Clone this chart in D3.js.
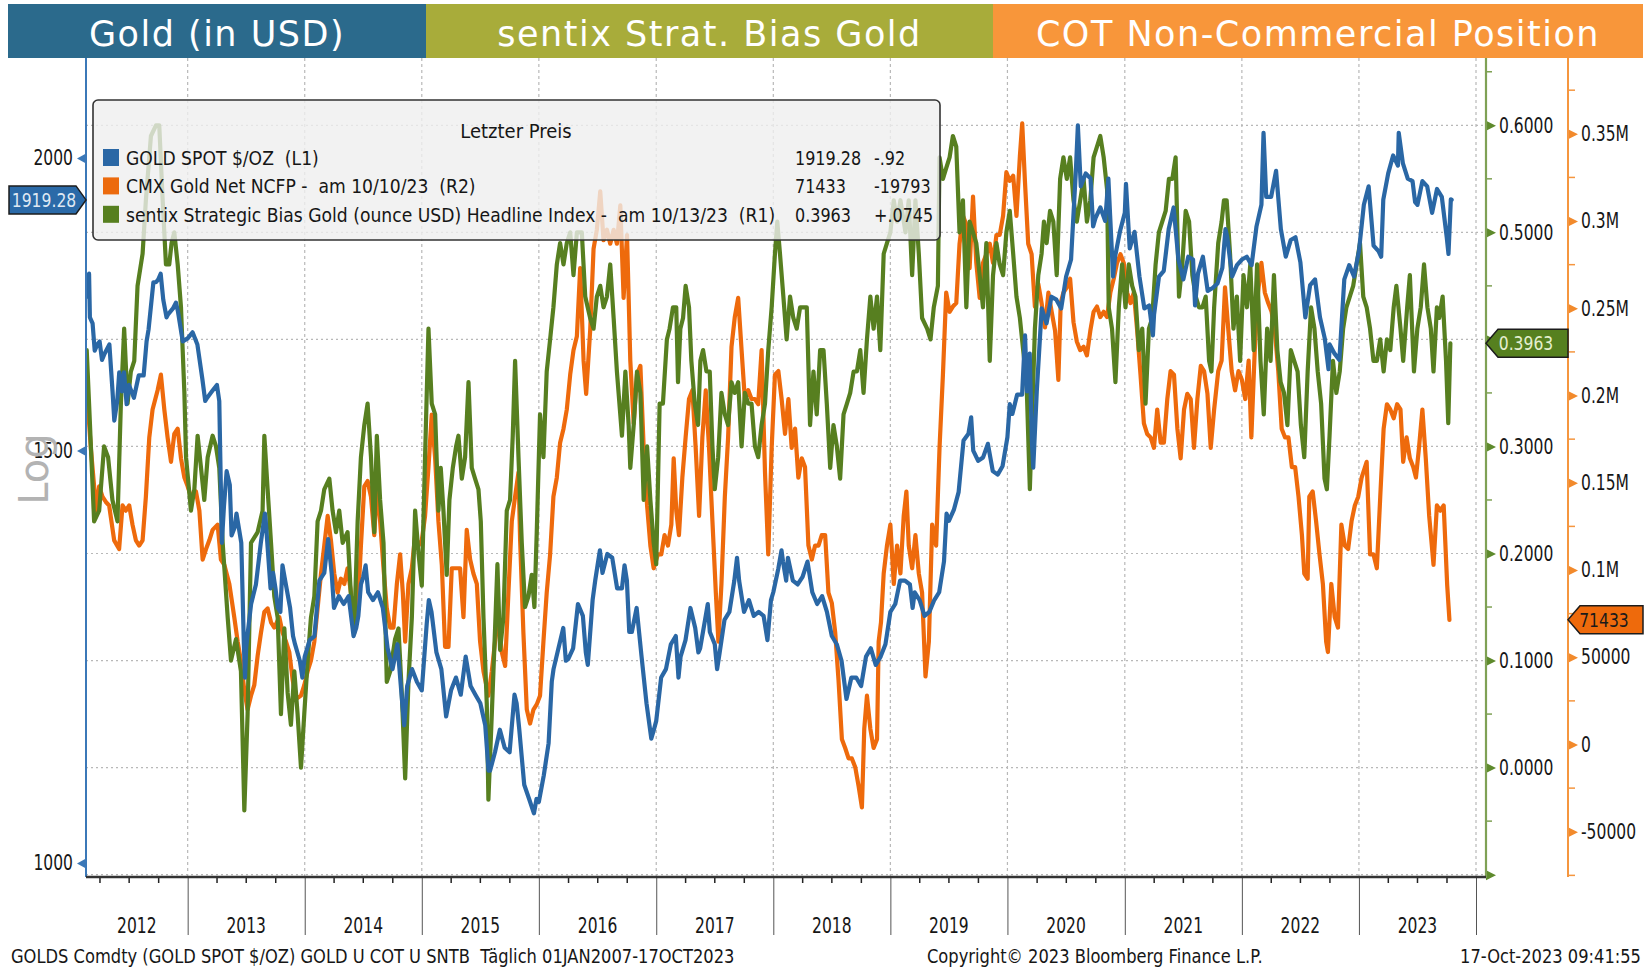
<!DOCTYPE html>
<html>
<head>
<meta charset="utf-8">
<script src="https://cdn.jsdelivr.net/npm/d3@7"></script>
<style>
  html, body { margin: 0; padding: 0; background: #fff; }
  svg { display: block; }
</style>
</head>
<body>
<svg id="chart" width="1651" height="970"></svg>
<script>
// ---- data (decimal year, value) ----
const headerTitles = ['Gold (in USD)', 'sentix Strat. Bias Gold', 'COT Non-Commercial Position'];
const yearLabels = [2012, 2013, 2014, 2015, 2016, 2017, 2018, 2019, 2020, 2021, 2022, 2023];
const goldTicks = [1000, 1500, 2000];
const sentixTicks = [-0.1, 0, 0.1, 0.2, 0.3, 0.4, 0.5, 0.6];
const sentixMinor = [-0.05, 0.05, 0.15, 0.25, 0.35, 0.45, 0.55, 0.65];
const cotTicks = [-50, 0, 50, 100, 150, 200, 250, 300, 350]; // thousand contracts
const cotMinor = [-75, -25, 25, 75, 125, 175, 225, 275, 325, 375];

// GOLD SPOT $/OZ
const goldSpot = [
  [2012.137,1745],[2012.16,1785],[2012.167,1710],[2012.19,1700],[2012.208,1655],[2012.23,1665],[2012.25,1670],[2012.27,1640],[2012.292,1650],[2012.333,1665],[2012.36,1590],[2012.375,1545],[2012.40,1575],[2012.417,1620],[2012.44,1590],[2012.458,1620],[2012.48,1570],[2012.50,1600],[2012.542,1580],[2012.583,1615],[2012.625,1615],[2012.65,1670],[2012.667,1690],[2012.708,1770],[2012.73,1770],[2012.75,1775],[2012.77,1785],[2012.792,1740],[2012.82,1710],[2012.833,1715],[2012.875,1725],[2012.90,1735],[2012.917,1720],[2012.958,1670],
  [2013.0,1675],[2013.042,1685],[2013.083,1665],[2013.125,1610],[2013.15,1575],[2013.167,1580],[2013.208,1590],[2013.25,1600],[2013.27,1575],[2013.292,1370],[2013.31,1420],[2013.333,1470],[2013.36,1450],[2013.375,1380],[2013.40,1390],[2013.417,1410],[2013.458,1370],[2013.48,1240],[2013.49,1200],[2013.50,1235],[2013.51,1250],[2013.542,1290],[2013.583,1315],[2013.625,1370],[2013.66,1410],[2013.667,1400],[2013.708,1310],[2013.73,1330],[2013.75,1310],[2013.77,1285],[2013.792,1280],[2013.81,1340],[2013.833,1320],[2013.875,1285],[2013.90,1250],[2013.917,1240],[2013.958,1220],[2013.98,1200],
  [2014.0,1225],[2014.042,1245],[2014.083,1250],[2014.125,1320],[2014.167,1330],[2014.20,1375],[2014.23,1330],[2014.25,1285],[2014.292,1300],[2014.333,1290],[2014.375,1300],[2014.417,1250],[2014.44,1260],[2014.458,1275],[2014.48,1315],[2014.50,1325],[2014.52,1340],[2014.542,1305],[2014.583,1295],[2014.625,1305],[2014.667,1285],[2014.708,1235],[2014.75,1210],[2014.792,1240],[2014.833,1170],[2014.85,1145],[2014.875,1190],[2014.917,1210],[2014.958,1195],
  [2015.0,1185],[2015.042,1265],[2015.06,1295],[2015.083,1280],[2015.125,1230],[2015.167,1210],[2015.208,1155],[2015.25,1185],[2015.292,1200],[2015.333,1180],[2015.375,1225],[2015.417,1190],[2015.458,1180],[2015.50,1170],[2015.542,1145],[2015.57,1095],[2015.583,1095],[2015.625,1115],[2015.667,1140],[2015.708,1120],[2015.75,1115],[2015.792,1180],[2015.81,1170],[2015.833,1140],[2015.875,1080],[2015.917,1065],[2015.958,1050],[2015.98,1065],
  [2016.0,1062],[2016.042,1090],[2016.083,1125],[2016.11,1195],[2016.125,1210],[2016.167,1235],[2016.208,1260],[2016.23,1220],[2016.25,1222],[2016.292,1235],[2016.333,1290],[2016.375,1275],[2016.40,1230],[2016.417,1215],[2016.458,1295],[2016.48,1320],[2016.50,1340],[2016.52,1360],[2016.542,1330],[2016.583,1355],[2016.625,1350],[2016.667,1310],[2016.708,1310],[2016.73,1340],[2016.75,1320],[2016.77,1255],[2016.792,1255],[2016.833,1285],[2016.875,1225],[2016.917,1170],[2016.958,1130],[2016.98,1140],
  [2017.0,1150],[2017.042,1200],[2017.083,1210],[2017.125,1240],[2017.167,1250],[2017.19,1200],[2017.208,1225],[2017.25,1245],[2017.292,1285],[2017.333,1260],[2017.36,1230],[2017.375,1235],[2017.417,1270],[2017.44,1290],[2017.458,1255],[2017.50,1240],[2017.52,1210],[2017.542,1230],[2017.583,1270],[2017.625,1280],[2017.667,1320],[2017.69,1350],[2017.708,1320],[2017.75,1280],[2017.792,1295],[2017.833,1275],[2017.875,1280],[2017.917,1275],[2017.95,1245],[2017.98,1295],
  [2018.0,1305],[2018.042,1335],[2018.07,1360],[2018.083,1345],[2018.11,1320],[2018.125,1350],[2018.167,1320],[2018.208,1315],[2018.25,1325],[2018.292,1345],[2018.333,1305],[2018.375,1290],[2018.417,1300],[2018.458,1280],[2018.50,1250],[2018.542,1240],[2018.583,1220],[2018.625,1175],[2018.667,1200],[2018.708,1200],[2018.75,1190],[2018.792,1225],[2018.833,1235],[2018.875,1215],[2018.917,1225],[2018.958,1240],
  [2019.0,1280],[2019.042,1290],[2019.083,1320],[2019.125,1320],[2019.167,1315],[2019.19,1285],[2019.208,1305],[2019.25,1295],[2019.292,1275],[2019.333,1280],[2019.375,1295],[2019.417,1305],[2019.458,1345],[2019.48,1410],[2019.50,1400],[2019.542,1415],[2019.583,1440],[2019.625,1515],[2019.667,1525],[2019.69,1550],[2019.708,1500],[2019.75,1485],[2019.792,1490],[2019.833,1510],[2019.875,1470],[2019.917,1465],[2019.958,1477],
  [2020.0,1520],[2020.02,1570],[2020.042,1555],[2020.083,1585],[2020.125,1585],[2020.15,1680],[2020.167,1590],[2020.19,1650],[2020.208,1515],[2020.22,1475],[2020.25,1590],[2020.292,1725],[2020.333,1700],[2020.375,1745],[2020.417,1740],[2020.458,1725],[2020.50,1780],[2020.542,1810],[2020.583,1975],[2020.60,2065],[2020.625,1945],[2020.667,1970],[2020.708,1960],[2020.73,1870],[2020.75,1885],[2020.792,1905],[2020.833,1880],[2020.86,1960],[2020.875,1890],[2020.90,1780],[2020.917,1815],[2020.958,1860],
  [2021.0,1895],[2021.01,1950],[2021.042,1830],[2021.083,1860],[2021.125,1780],[2021.167,1725],[2021.208,1730],[2021.24,1680],[2021.25,1715],[2021.292,1780],[2021.333,1790],[2021.375,1865],[2021.417,1905],[2021.458,1810],[2021.50,1775],[2021.542,1815],[2021.583,1810],[2021.60,1730],[2021.625,1785],[2021.667,1815],[2021.708,1755],[2021.75,1760],[2021.792,1768],[2021.833,1795],[2021.86,1865],[2021.875,1850],[2021.917,1780],[2021.958,1800],
  [2022.0,1810],[2022.042,1815],[2022.083,1800],[2022.125,1870],[2022.167,1910],[2022.185,2050],[2022.208,1925],[2022.25,1925],[2022.292,1975],[2022.333,1865],[2022.375,1815],[2022.417,1845],[2022.458,1850],[2022.50,1805],[2022.542,1710],[2022.583,1765],[2022.625,1775],[2022.667,1710],[2022.708,1675],[2022.74,1625],[2022.75,1665],[2022.792,1650],[2022.833,1640],[2022.875,1775],[2022.917,1800],[2022.958,1780],
  [2023.0,1825],[2023.042,1910],[2023.083,1945],[2023.125,1835],[2023.167,1825],[2023.19,1815],[2023.208,1920],[2023.25,1970],[2023.292,2005],[2023.333,1985],[2023.34,2050],[2023.375,1990],[2023.417,1960],[2023.458,1955],[2023.48,1915],[2023.50,1910],[2023.542,1955],[2023.583,1945],[2023.625,1895],[2023.667,1940],[2023.708,1925],[2023.75,1850],[2023.765,1820],[2023.785,1920.2],[2023.792,1919.28]
];

// sentix Strategic Bias Gold, headline index
const sentixBias = [
  [2012.14,.39],[2012.16,.34],[2012.203,.23],[2012.246,.24],[2012.288,.30],[2012.322,.29],[2012.359,.25],[2012.402,.23],[2012.431,.34],[2012.459,.41],[2012.488,.34],[2012.516,.37],[2012.545,.38],[2012.573,.45],[2012.616,.48],[2012.644,.53],[2012.687,.59],[2012.73,.60],[2012.758,.60],[2012.787,.53],[2012.815,.47],[2012.843,.47],[2012.863,.49],[2012.886,.50],[2012.915,.47],[2012.943,.43],[2012.972,.35],[2012.986,.29],
  [2013.028,.24],[2013.057,.26],[2013.085,.31],[2013.114,.28],[2013.142,.25],[2013.171,.29],[2013.213,.31],[2013.242,.30],[2013.27,.28],[2013.299,.21],[2013.342,.14],[2013.37,.10],[2013.413,.12],[2013.455,.09],[2013.484,-.04],[2013.512,.05],[2013.541,.21],[2013.598,.22],[2013.64,.24],[2013.655,.31],[2013.683,.26],[2013.712,.21],[2013.74,.16],[2013.769,.14],[2013.797,.05],[2013.826,.13],[2013.854,.07],[2013.882,.04],[2013.911,.09],[2013.939,.05],[2013.968,.00],[2013.996,.05],
  [2014.025,.10],[2014.053,.14],[2014.082,.16],[2014.11,.23],[2014.139,.24],[2014.167,.26],[2014.21,.27],[2014.238,.24],[2014.267,.22],[2014.295,.24],[2014.324,.21],[2014.366,.22],[2014.395,.16],[2014.423,.13],[2014.452,.23],[2014.48,.29],[2014.509,.32],[2014.537,.34],[2014.566,.29],[2014.594,.22],[2014.616,.31],[2014.644,.25],[2014.673,.21],[2014.701,.08],[2014.73,.09],[2014.772,.12],[2014.801,.13],[2014.829,.07],[2014.858,-.01],[2014.886,.08],[2014.915,.14],[2014.943,.24],[2014.972,.20],
  [2015.0,.17],[2015.028,.29],[2015.057,.41],[2015.085,.34],[2015.114,.33],[2015.142,.24],[2015.162,.28],[2015.185,.24],[2015.213,.18],[2015.236,.25],[2015.265,.28],[2015.293,.30],[2015.313,.31],[2015.342,.27],[2015.37,.29],[2015.399,.36],[2015.427,.28],[2015.455,.27],[2015.484,.26],[2015.504,.23],[2015.527,.14],[2015.555,.06],[2015.569,-.03],[2015.598,.05],[2015.626,.13],[2015.646,.19],[2015.669,.11],[2015.697,.14],[2015.726,.24],[2015.754,.25],[2015.777,.31],[2015.797,.38],[2015.826,.29],[2015.854,.21],[2015.882,.15],[2015.911,.16],[2015.939,.18],[2015.962,.15],[2015.982,.22],
  [2016.01,.33],[2016.039,.29],[2016.067,.37],[2016.096,.40],[2016.124,.43],[2016.153,.47],[2016.181,.49],[2016.21,.47],[2016.238,.49],[2016.267,.50],[2016.295,.46],[2016.324,.50],[2016.366,.50],[2016.395,.44],[2016.437,.42],[2016.466,.41],[2016.494,.44],[2016.523,.45],[2016.551,.43],[2016.58,.44],[2016.608,.47],[2016.637,.42],[2016.665,.37],[2016.708,.31],[2016.737,.37],[2016.765,.32],[2016.779,.28],[2016.808,.32],[2016.836,.37],[2016.865,.35],[2016.893,.25],[2016.922,.30],[2016.95,.25],[2016.978,.21],
  [2017.0,.19],[2017.029,.34],[2017.057,.34],[2017.091,.40],[2017.114,.41],[2017.143,.43],[2017.171,.43],[2017.186,.36],[2017.206,.41],[2017.229,.42],[2017.251,.45],[2017.28,.43],[2017.3,.38],[2017.329,.34],[2017.357,.32],[2017.377,.38],[2017.4,.39],[2017.429,.37],[2017.457,.37],[2017.48,.30],[2017.5,.26],[2017.529,.29],[2017.557,.35],[2017.586,.33],[2017.614,.32],[2017.643,.36],[2017.671,.35],[2017.7,.36],[2017.729,.30],[2017.757,.35],[2017.786,.34],[2017.814,.34],[2017.843,.30],[2017.871,.29],[2017.9,.32],[2017.929,.34],[2017.957,.39],[2017.986,.43],
  [2018.014,.48],[2018.034,.51],[2018.057,.48],[2018.086,.44],[2018.114,.40],[2018.143,.44],[2018.171,.42],[2018.2,.41],[2018.229,.43],[2018.257,.43],[2018.286,.43],[2018.314,.32],[2018.343,.37],[2018.371,.33],[2018.4,.39],[2018.429,.39],[2018.457,.34],[2018.486,.28],[2018.514,.32],[2018.543,.30],[2018.571,.27],[2018.6,.33],[2018.629,.34],[2018.657,.35],[2018.686,.37],[2018.714,.37],[2018.743,.39],[2018.771,.35],[2018.8,.40],[2018.829,.44],[2018.857,.41],[2018.886,.44],[2018.914,.39],[2018.943,.48],[2018.971,.49],
  [2019.0,.50],[2019.029,.53],[2019.057,.51],[2019.086,.53],[2019.129,.50],[2019.157,.53],[2019.186,.46],[2019.214,.53],[2019.243,.48],[2019.271,.42],[2019.314,.41],[2019.343,.40],[2019.371,.43],[2019.406,.45],[2019.42,.57],[2019.449,.55],[2019.477,.56],[2019.506,.57],[2019.534,.59],[2019.563,.58],[2019.591,.50],[2019.62,.53],[2019.649,.43],[2019.677,.51],[2019.706,.50],[2019.734,.49],[2019.763,.46],[2019.791,.43],[2019.82,.49],[2019.849,.38],[2019.877,.46],[2019.906,.49],[2019.934,.47],[2019.963,.46],[2019.991,.50],
  [2020.02,.52],[2020.049,.48],[2020.077,.44],[2020.106,.42],[2020.134,.39],[2020.163,.36],[2020.177,.31],[2020.191,.26],[2020.214,.34],[2020.234,.41],[2020.263,.46],[2020.291,.48],[2020.311,.51],[2020.334,.49],[2020.363,.52],[2020.391,.51],[2020.42,.46],[2020.449,.55],[2020.477,.57],[2020.506,.55],[2020.534,.57],[2020.563,.53],[2020.591,.51],[2020.62,.53],[2020.649,.55],[2020.677,.51],[2020.706,.53],[2020.734,.57],[2020.763,.58],[2020.791,.59],[2020.82,.57],[2020.849,.54],[2020.863,.43],[2020.891,.41],[2020.92,.36],[2020.949,.43],[2020.977,.47],
  [2021.006,.43],[2021.034,.47],[2021.063,.45],[2021.091,.44],[2021.12,.39],[2021.149,.41],[2021.177,.34],[2021.206,.41],[2021.234,.42],[2021.263,.47],[2021.291,.50],[2021.32,.51],[2021.349,.52],[2021.377,.55],[2021.406,.55],[2021.434,.57],[2021.463,.44],[2021.491,.47],[2021.52,.52],[2021.549,.51],[2021.577,.46],[2021.606,.44],[2021.634,.43],[2021.663,.43],[2021.691,.44],[2021.72,.38],[2021.74,.37],[2021.763,.43],[2021.798,.49],[2021.827,.51],[2021.847,.53],[2021.87,.53],[2021.899,.48],[2021.928,.41],[2021.957,.44],[2021.985,.38],
  [2022.014,.46],[2022.043,.43],[2022.072,.47],[2022.101,.39],[2022.13,.47],[2022.159,.38],[2022.187,.33],[2022.216,.41],[2022.245,.38],[2022.274,.46],[2022.303,.39],[2022.331,.36],[2022.36,.35],[2022.389,.32],[2022.418,.39],[2022.447,.38],[2022.476,.37],[2022.504,.32],[2022.533,.29],[2022.562,.37],[2022.591,.43],[2022.62,.41],[2022.648,.37],[2022.677,.34],[2022.706,.27],[2022.726,.26],[2022.749,.31],[2022.778,.38],[2022.807,.35],[2022.836,.37],[2022.865,.41],[2022.893,.43],[2022.922,.44],[2022.951,.45],[2022.98,.47],
  [2023.009,.49],[2023.037,.44],[2023.066,.43],[2023.095,.41],[2023.124,.38],[2023.153,.38],[2023.182,.40],[2023.211,.37],[2023.239,.40],[2023.268,.39],[2023.297,.43],[2023.32,.45],[2023.355,.41],[2023.378,.38],[2023.412,.43],[2023.435,.46],[2023.47,.37],[2023.499,.41],[2023.528,.43],[2023.556,.47],[2023.585,.43],[2023.614,.41],[2023.637,.37],[2023.666,.43],[2023.686,.42],[2023.715,.44],[2023.744,.38],[2023.763,.3218],[2023.781,.3963]
];

// CMX Gold net non-commercial futures position, thousand contracts
const cotNet = [
  [2012.14,195],[2012.152,192],[2012.175,170],[2012.203,148],[2012.218,134],[2012.246,148],[2012.274,142],[2012.303,139],[2012.331,137],[2012.374,117],[2012.416,112],[2012.445,137],[2012.473,134],[2012.502,137],[2012.53,126],[2012.559,117],[2012.587,114],[2012.616,117],[2012.644,142],[2012.673,176],[2012.701,192],[2012.744,203],[2012.772,212],[2012.801,192],[2012.829,176],[2012.858,162],[2012.886,178],[2012.915,181],[2012.943,164],[2012.972,153],
  [2013.0,148],[2013.028,142],[2013.071,145],[2013.1,134],[2013.128,106],[2013.157,112],[2013.185,117],[2013.213,123],[2013.256,126],[2013.284,106],[2013.313,103],[2013.356,92],[2013.398,73],[2013.427,59],[2013.455,48],[2013.484,31],[2013.512,20],[2013.541,28],[2013.569,34],[2013.598,51],[2013.626,64],[2013.655,76],[2013.683,78],[2013.712,70],[2013.74,67],[2013.783,73],[2013.811,64],[2013.84,59],[2013.868,53],[2013.897,37],[2013.925,26],[2013.968,28],[2013.996,34],
  [2014.025,42],[2014.053,48],[2014.082,59],[2014.11,78],[2014.139,98],[2014.167,114],[2014.196,131],[2014.224,117],[2014.252,98],[2014.281,87],[2014.309,95],[2014.338,92],[2014.366,101],[2014.395,87],[2014.423,64],[2014.452,76],[2014.48,114],[2014.509,148],[2014.537,151],[2014.566,142],[2014.594,120],[2014.616,148],[2014.644,128],[2014.673,101],[2014.701,78],[2014.73,67],[2014.758,67],[2014.787,92],[2014.815,109],[2014.838,87],[2014.858,59],[2014.886,92],[2014.915,101],[2014.943,120],[2014.972,114],
  [2015.0,117],[2015.028,131],[2015.057,159],[2015.085,189],[2015.114,164],[2015.142,128],[2015.171,103],[2015.199,56],[2015.228,56],[2015.256,101],[2015.299,101],[2015.327,101],[2015.356,73],[2015.384,123],[2015.413,106],[2015.441,98],[2015.47,92],[2015.498,59],[2015.527,42],[2015.569,28],[2015.598,42],[2015.626,59],[2015.655,73],[2015.683,53],[2015.712,45],[2015.74,87],[2015.769,128],[2015.797,142],[2015.826,156],[2015.84,117],[2015.868,64],[2015.897,20],[2015.925,12],[2015.954,20],[2015.982,23],
  [2016.01,28],[2016.039,59],[2016.067,87],[2016.096,109],[2016.124,142],[2016.153,153],[2016.181,173],[2016.21,181],[2016.238,192],[2016.267,212],[2016.295,226],[2016.324,234],[2016.352,273],[2016.381,220],[2016.403,201],[2016.437,237],[2016.466,284],[2016.494,295],[2016.523,317],[2016.551,289],[2016.58,295],[2016.608,287],[2016.637,295],[2016.665,287],[2016.694,309],[2016.722,256],[2016.751,292],[2016.779,220],[2016.808,184],[2016.836,212],[2016.865,217],[2016.893,170],[2016.922,137],[2016.95,114],[2016.978,101],
  [2017.014,109],[2017.043,109],[2017.071,120],[2017.1,114],[2017.129,126],[2017.149,164],[2017.171,134],[2017.194,120],[2017.223,153],[2017.251,176],[2017.28,198],[2017.309,203],[2017.337,170],[2017.366,131],[2017.394,176],[2017.423,203],[2017.451,170],[2017.48,128],[2017.509,87],[2017.531,59],[2017.557,92],[2017.586,142],[2017.614,176],[2017.643,228],[2017.671,245],[2017.7,256],[2017.729,226],[2017.757,198],[2017.786,203],[2017.814,198],[2017.843,198],[2017.871,195],[2017.9,226],[2017.929,156],[2017.957,109],[2017.986,170],
  [2018.014,212],[2018.043,214],[2018.071,198],[2018.1,178],[2018.129,198],[2018.157,170],[2018.186,181],[2018.214,153],[2018.243,164],[2018.271,159],[2018.3,114],[2018.329,106],[2018.357,114],[2018.386,114],[2018.414,120],[2018.443,120],[2018.471,87],[2018.5,81],[2018.529,64],[2018.557,37],[2018.586,3],[2018.614,-2],[2018.643,-8],[2018.671,-8],[2018.7,-13],[2018.729,-24],[2018.757,-36],[2018.777,9],[2018.8,28],[2018.829,9],[2018.857,-2],[2018.886,3],[2018.9,59],[2018.92,70],[2018.943,98],[2018.971,114],
  [2019.0,126],[2019.029,92],[2019.057,114],[2019.086,98],[2019.114,131],[2019.137,145],[2019.157,114],[2019.186,101],[2019.214,120],[2019.243,98],[2019.271,87],[2019.3,39],[2019.329,59],[2019.357,126],[2019.391,114],[2019.42,170],[2019.449,212],[2019.477,259],[2019.506,248],[2019.534,251],[2019.563,253],[2019.591,287],[2019.62,303],[2019.649,298],[2019.677,273],[2019.706,314],[2019.734,276],[2019.763,256],[2019.791,276],[2019.82,281],[2019.849,287],[2019.877,276],[2019.906,292],[2019.934,292],[2019.963,303],[2019.991,328],
  [2020.02,323],[2020.049,326],[2020.077,303],[2020.106,337],[2020.126,356],[2020.149,323],[2020.177,287],[2020.206,281],[2020.234,251],[2020.263,264],[2020.291,253],[2020.32,239],[2020.349,259],[2020.377,248],[2020.406,237],[2020.434,209],[2020.454,253],[2020.477,259],[2020.506,262],[2020.534,267],[2020.563,242],[2020.591,231],[2020.62,226],[2020.649,228],[2020.677,223],[2020.706,237],[2020.734,248],[2020.763,251],[2020.791,245],[2020.82,248],[2020.849,245],[2020.877,259],[2020.906,267],[2020.934,276],[2020.963,281],[2020.991,276],
  [2021.02,259],[2021.049,253],[2021.077,259],[2021.106,237],[2021.134,212],[2021.163,184],[2021.191,178],[2021.22,176],[2021.249,170],[2021.277,192],[2021.306,173],[2021.334,173],[2021.363,198],[2021.391,214],[2021.42,212],[2021.449,181],[2021.477,164],[2021.506,192],[2021.534,201],[2021.563,198],[2021.591,170],[2021.62,198],[2021.649,217],[2021.677,214],[2021.706,201],[2021.734,170],[2021.763,192],[2021.798,214],[2021.827,220],[2021.856,262],[2021.885,237],[2021.913,214],[2021.942,203],[2021.971,214],
  [2022.0,209],[2022.029,198],[2022.058,220],[2022.081,176],[2022.11,226],[2022.138,259],[2022.167,276],[2022.196,259],[2022.225,253],[2022.254,248],[2022.282,237],[2022.311,214],[2022.34,181],[2022.369,176],[2022.398,176],[2022.427,159],[2022.455,159],[2022.484,142],[2022.513,120],[2022.533,98],[2022.562,95],[2022.576,142],[2022.605,145],[2022.634,128],[2022.663,109],[2022.692,92],[2022.72,59],[2022.735,53],[2022.764,92],[2022.793,73],[2022.821,67],[2022.85,126],[2022.879,114],[2022.908,112],[2022.937,128],[2022.965,137],[2022.994,142],
  [2023.023,153],[2023.066,162],[2023.095,109],[2023.124,109],[2023.153,101],[2023.182,142],[2023.211,181],[2023.239,195],[2023.268,192],[2023.297,187],[2023.326,195],[2023.355,192],[2023.378,162],[2023.407,176],[2023.435,164],[2023.464,159],[2023.487,153],[2023.513,170],[2023.542,192],[2023.571,164],[2023.6,131],[2023.637,103],[2023.666,137],[2023.695,134],[2023.724,137],[2023.754,91.226],[2023.773,71.433]
];

const legendRows = [
  { label: 'GOLD SPOT $/OZ  (L1)', last: '1919.28', change: '-.92', color: '#2a67a5' },
  { label: 'CMX Gold Net NCFP -  am 10/10/23  (R2)', last: '71433', change: '-19793', color: '#ec6a0d' },
  { label: 'sentix Strategic Bias Gold (ounce USD) Headline Index -  am 10/13/23  (R1)', last: '0.3963', change: '+.0745', color: '#567f1f' },
];

// ---- layout ----
const FONT = '"DejaVu Sans", Verdana, sans-serif';
const plot = { left: 86, right: 1486, top: 58, bottom: 877, axisEnd: 1476 };
const cotAxisX = 1568;
const COLORS = {
  gold: '#2a67a5', cot: '#ee6a0c', sentix: '#577f20',
  goldAxis: '#3b78b8', sentixAxis: '#7fa155', cotAxis: '#f5963f',
  grid: '#b8b8b8', text: '#161616',
};
const headerColors = ['#2b6a8c', '#a8ac3a', '#f8963a'];
const headerBands = [[8, 426], [426, 993], [993, 1643]];

const toDate = t => {
  const y = Math.floor(t);
  const a = new Date(y, 0, 1), b = new Date(y + 1, 0, 1);
  return new Date(+a + (t - y) * (b - a));
};

// Bloomberg uses a narrow face; squeeze DejaVu horizontally to match
function squeeze(sel, sx) {
  sel.each(function () {
    const x0 = +this.getAttribute('x') || 0;
    this.setAttribute('x', x0 / sx);
    this.setAttribute('transform', `scale(${sx},1)`);
  });
}

const x = d3.scaleTime()
  .domain([new Date(2012, 1, 19), new Date(2024, 0, 1)])
  .range([plot.left, plot.axisEnd]);
const yGold = d3.scaleLog().domain([1000, 2000]).range([863, 158]);
const ySentix = d3.scaleLinear().domain([0, 0.6]).range([767.6, 125.3]);
const yCot = d3.scaleLinear().domain([0, 350]).range([744.5, 133.8]);

const lastOf = arr => arr[arr.length - 1][1];
const gy = yGold(lastOf(goldSpot));
const sy = ySentix(lastOf(sentixBias));
const cy = yCot(lastOf(cotNet));

const svg = d3.select('#chart');

// header bands
const header = svg.append('g');
header.selectAll('rect').data(headerTitles).join('rect')
  .attr('x', (d, i) => headerBands[i][0])
  .attr('y', 4)
  .attr('width', (d, i) => headerBands[i][1] - headerBands[i][0])
  .attr('height', 54)
  .attr('fill', (d, i) => headerColors[i]);
header.selectAll('text').data(headerTitles).join('text')
  .attr('x', (d, i) => (headerBands[i][0] + headerBands[i][1]) / 2)
  .attr('y', 46)
  .attr('text-anchor', 'middle')
  .attr('font-family', FONT)
  .attr('font-size', 35)
  .attr('letter-spacing', 1.5)
  .attr('fill', '#fff')
  .text(d => d);

// grid
const grid = svg.append('g');
grid.selectAll('line.h').data(sentixTicks).join('line')
  .attr('class', 'h')
  .attr('x1', plot.left).attr('x2', plot.right)
  .attr('y1', d => ySentix(d)).attr('y2', d => ySentix(d))
  .attr('stroke', COLORS.grid).attr('stroke-width', 1.2).attr('stroke-dasharray', '2,3');
const yearStarts = d3.timeYear.range(new Date(2013, 0, 1), new Date(2024, 0, 2));
grid.selectAll('line.v').data(yearStarts).join('line')
  .attr('class', 'v')
  .attr('x1', d => x(d)).attr('x2', d => x(d))
  .attr('y1', plot.top).attr('y2', plot.bottom)
  .attr('stroke', COLORS.grid).attr('stroke-width', 1.2).attr('stroke-dasharray', '3,3');

// series
svg.append('clipPath').attr('id', 'plot-clip').append('rect')
  .attr('x', plot.left).attr('y', plot.top)
  .attr('width', plot.right - plot.left).attr('height', plot.bottom - plot.top);
const series = svg.append('g').attr('clip-path', 'url(#plot-clip)');
const lineFor = yScale => d3.line().x(d => x(toDate(d[0]))).y(d => yScale(d[1]));
[[cotNet, yCot, COLORS.cot], [sentixBias, ySentix, COLORS.sentix], [goldSpot, yGold, COLORS.gold]]
  .forEach(([data, yScale, color]) => {
    series.append('path')
      .datum(data)
      .attr('d', lineFor(yScale))
      .attr('fill', 'none')
      .attr('stroke', color)
      .attr('stroke-width', 4.2)
      .attr('stroke-linejoin', 'round')
      .attr('stroke-linecap', 'round');
  });

// legend box
const lg = svg.append('g');
lg.append('rect')
  .attr('x', 93).attr('y', 100).attr('width', 847).attr('height', 140).attr('rx', 5)
  .attr('fill', '#efefef').attr('fill-opacity', 0.8)
  .attr('stroke', '#333').attr('stroke-width', 1.6);
lg.append('text')
  .attr('x', 516).attr('y', 138).attr('text-anchor', 'middle')
  .attr('font-family', FONT).attr('font-size', 20).attr('fill', COLORS.text)
  .text('Letzter Preis')
  .call(squeeze, 0.9);
const rows = lg.selectAll('g.row').data(legendRows).join('g')
  .attr('class', 'row')
  .attr('transform', (d, i) => `translate(0,${158 + i * 28.4})`)
  .attr('font-family', FONT).attr('font-size', 20).attr('fill', COLORS.text);
rows.append('rect').attr('x', 103).attr('y', -9).attr('width', 16).attr('height', 17).attr('fill', d => d.color);
rows.append('text').attr('x', 126).attr('y', 7)
  .attr('xml:space', 'preserve').text(d => d.label)
  .call(squeeze, 0.86);
rows.append('text').attr('x', 795).attr('y', 7).text(d => d.last).call(squeeze, 0.8);
rows.append('text').attr('x', 874).attr('y', 7).text(d => d.change).call(squeeze, 0.8);

// left axis (gold, log)
const leftAxis = svg.append('g')
  .attr('transform', `translate(${plot.left},0)`)
  .call(d3.axisLeft(yGold).tickValues(goldTicks).tickFormat(d3.format('d')).tickSize(0).tickPadding(13));
leftAxis.attr('font-family', FONT).attr('font-size', 21);
leftAxis.select('.domain').remove();
leftAxis.selectAll('.tick text').attr('fill', COLORS.text).call(squeeze, 0.74);
leftAxis.selectAll('.tick').append('path').attr('d', 'M0,-5L-9,0L0,5Z').attr('fill', COLORS.goldAxis);
leftAxis.append('line')
  .attr('y1', plot.top).attr('y2', plot.bottom)
  .attr('stroke', COLORS.goldAxis).attr('stroke-width', 2);

// right axis 1 (sentix); the label under the last-value tag is hidden, as in the original
const sAxis = svg.append('g')
  .attr('transform', `translate(${plot.right},0)`)
  .call(d3.axisRight(ySentix).tickValues(sentixTicks)
    .tickFormat(d => (d < -0.05 || Math.abs(ySentix(d) - sy) < 20) ? '' : d3.format('.4f')(d))
    .tickSize(0).tickPadding(13));
sAxis.attr('font-family', FONT).attr('font-size', 21);
sAxis.select('.domain').remove();
sAxis.selectAll('.tick text').attr('fill', COLORS.text).call(squeeze, 0.74);
sAxis.selectAll('.tick').append('path').attr('d', 'M0,-5L10,0L0,5Z').attr('fill', '#5e8a2c');
sAxis.selectAll('line.minor').data(sentixMinor).join('line')
  .attr('class', 'minor')
  .attr('x1', 0).attr('x2', 6)
  .attr('y1', d => ySentix(d)).attr('y2', d => ySentix(d))
  .attr('stroke', COLORS.sentixAxis).attr('stroke-width', 1.5);
sAxis.append('line')
  .attr('y1', plot.top).attr('y2', plot.bottom + 1)
  .attr('stroke', COLORS.sentixAxis).attr('stroke-width', 2.2);

// right axis 2 (COT)
const cAxis = svg.append('g')
  .attr('transform', `translate(${cotAxisX},0)`)
  .call(d3.axisRight(yCot).tickValues(cotTicks)
    .tickFormat(d => (Math.abs(yCot(d) - cy) < 20) ? '' : (d >= 100 ? `${d / 1000}M` : `${d * 1000}`))
    .tickSize(0).tickPadding(13));
cAxis.attr('font-family', FONT).attr('font-size', 21);
cAxis.select('.domain').remove();
cAxis.selectAll('.tick text').attr('fill', COLORS.text).call(squeeze, 0.74);
cAxis.selectAll('.tick').append('path').attr('d', 'M0,-5L10,0L0,5Z').attr('fill', '#f28a2c');
cAxis.selectAll('line.minor').data(cotMinor).join('line')
  .attr('class', 'minor')
  .attr('x1', 0).attr('x2', 7)
  .attr('y1', d => yCot(d)).attr('y2', d => yCot(d))
  .attr('stroke', COLORS.cotAxis).attr('stroke-width', 1.5);
cAxis.append('line')
  .attr('y1', plot.top).attr('y2', plot.bottom)
  .attr('stroke', COLORS.cotAxis).attr('stroke-width', 2);

// x axis
const xAxis = svg.append('g')
  .attr('transform', `translate(0,${plot.bottom})`)
  .call(d3.axisBottom(x).ticks(d3.timeMonth.every(3)).tickSize(6).tickSizeOuter(0).tickFormat(''));
xAxis.select('.domain').remove();
xAxis.selectAll('.tick line')
  .attr('stroke', d => d.getMonth() === 0 ? '#555' : '#222')
  .attr('stroke-width', d => d.getMonth() === 0 ? 1 : 1.5)
  .attr('y2', d => d.getMonth() === 0 ? 58 : 6);
xAxis.append('line')
  .attr('x1', plot.left).attr('x2', plot.right)
  .attr('stroke', '#333').attr('stroke-width', 2.5);
const domainStart = x.domain()[0];
xAxis.selectAll('text.year').data(yearLabels).join('text')
  .attr('class', 'year')
  .attr('x', d => (x(Math.max(new Date(d, 0, 1), domainStart)) + x(new Date(d + 1, 0, 1))) / 2)
  .attr('y', 56)
  .attr('text-anchor', 'middle')
  .attr('font-family', FONT).attr('font-size', 21).attr('fill', COLORS.text)
  .text(d => d)
  .call(squeeze, 0.74);

// "Log" label
svg.append('text')
  .attr('transform', 'translate(48,469) rotate(-90)')
  .attr('text-anchor', 'middle')
  .attr('font-family', FONT)
  .attr('font-size', 40).attr('fill', '#b3b3b3')
  .text('Log');

// last value tags
const tags = [
  { pts: [[9, gy - 14], [76, gy - 14], [86, gy], [76, gy + 14], [9, gy + 14]], cy: gy, fill: '#2b6aa8', text: '1919.28', tx: 44, color: '#dfe8f3' },
  { pts: [[1486, sy], [1498, sy - 14], [1568, sy - 14], [1568, sy + 14], [1498, sy + 14]], cy: sy, fill: '#56801f', text: '0.3963', tx: 1526, color: '#e5efcf' },
  { pts: [[1568, cy], [1580, cy - 14], [1643, cy - 14], [1643, cy + 14], [1580, cy + 14]], cy: cy, fill: '#ee6a0c', text: '71433', tx: 1604, color: '#1a1a1a' },
];
const tagG = svg.append('g').selectAll('g').data(tags).join('g');
tagG.append('polygon')
  .attr('points', d => d.pts.map(p => p.join(',')).join(' '))
  .attr('fill', d => d.fill).attr('stroke', '#1c1c1c').attr('stroke-width', 1.5);
tagG.append('text')
  .attr('x', d => d.tx).attr('y', d => d.cy + 7)
  .attr('text-anchor', 'middle')
  .attr('font-family', FONT).attr('font-size', 20).attr('fill', d => d.color)
  .text(d => d.text)
  .call(squeeze, 0.78);

// footer
const footer = svg.append('g').attr('font-family', FONT).attr('font-size', 20).attr('fill', COLORS.text);
footer.append('text').attr('x', 11).attr('y', 963).attr('xml:space', 'preserve')
  .text('GOLDS Comdty (GOLD SPOT $/OZ) GOLD U COT U SNTB  Täglich 01JAN2007-17OCT2023')
  .call(squeeze, 0.815);
footer.append('text').attr('x', 927).attr('y', 963)
  .text('Copyright© 2023 Bloomberg Finance L.P.')
  .call(squeeze, 0.815);
footer.append('text').attr('x', 1641).attr('y', 963).attr('text-anchor', 'end')
  .text('17-Oct-2023 09:41:55')
  .call(squeeze, 0.815);
</script>
</body>
</html>
